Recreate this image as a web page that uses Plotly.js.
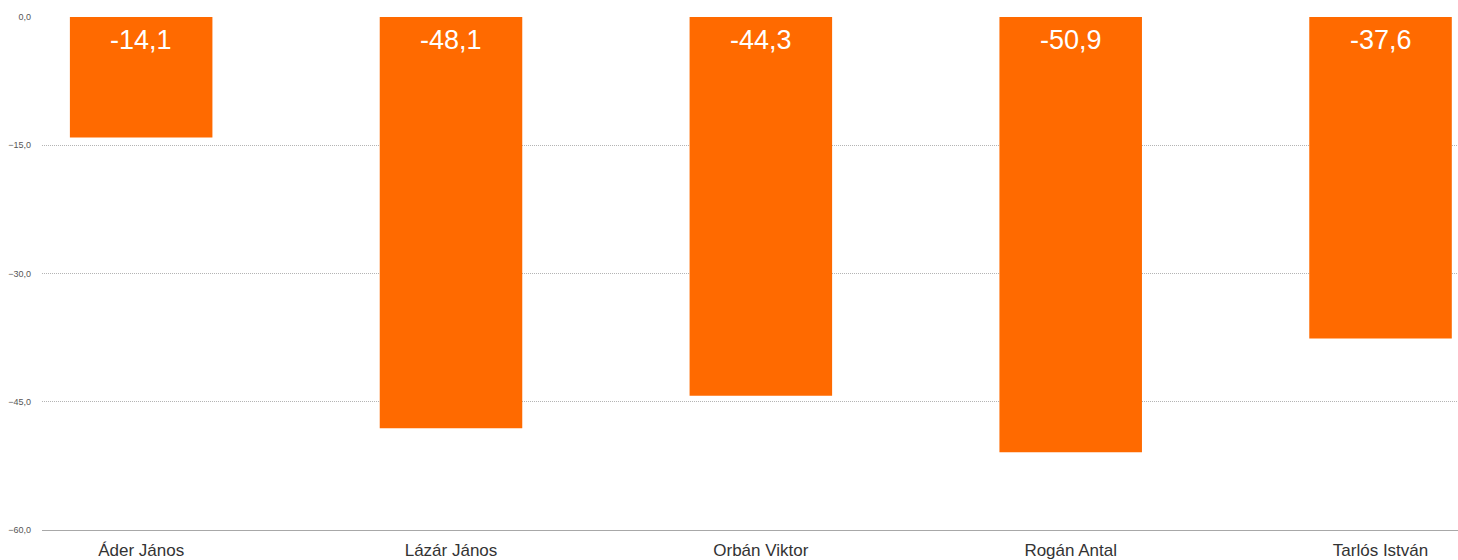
<!DOCTYPE html>
<html>
<head>
<meta charset="utf-8">
<script src="https://cdn.plot.ly/plotly-3.0.1.min.js"></script>
<style>html,body{margin:0;padding:0;background:#fff;}#chart{width:1458px;height:560px;}</style>
</head>
<body>
<div id="chart"></div>
<script>
const categories = ["Áder János", "Lázár János", "Orbán Viktor", "Rogán Antal", "Tarlós István"];
const values = [-14.1, -48.1, -44.3, -50.9, -37.6];
const tickValues = [0, -15, -30, -45, -60];

const labels = values.map(v => v.toFixed(1).replace('.', ','));

const trace = {
  type: 'bar',
  x: categories,
  y: values,
  width: 0.46,
  marker: {color: '#FF6A00', line: {width: 0}},
  hoverinfo: 'none'
};

const annotations = categories.map((c, i) => ({
  x: c,
  y: 0,
  xref: 'x',
  yref: 'y',
  text: labels[i],
  showarrow: false,
  xanchor: 'center',
  yanchor: 'top',
  yshift: -6,
  font: {family: 'Liberation Sans, Arial, sans-serif', size: 27, color: '#ffffff'}
}));

const layout = {
  width: 1458,
  height: 560,
  margin: {l: 42, r: 0, t: 17, b: 30},
  paper_bgcolor: '#ffffff',
  plot_bgcolor: '#ffffff',
  showlegend: false,
  separators: ',.',
  annotations: annotations,
  xaxis: {
    type: 'category',
    range: [-0.32, 4.25],
    showgrid: false,
    zeroline: false,
    showline: true,
    linecolor: '#a8a8a8',
    linewidth: 1,
    ticks: '',
    ticklabelstandoff: 5,
    tickfont: {family: 'Liberation Sans, Arial, sans-serif', size: 17, color: '#333333'},
    fixedrange: true
  },
  yaxis: {
    range: [-60, 0],
    tickvals: tickValues,
    tickformat: '.1f',
    showgrid: true,
    gridcolor: '#b4b4b4',
    griddash: '1px,1px',
    gridwidth: 1,
    zeroline: false,
    showline: false,
    ticks: '',
    ticklabelstandoff: 10,
    tickfont: {family: 'Liberation Sans, Arial, sans-serif', size: 9, color: '#555555'},
    fixedrange: true
  }
};

Plotly.newPlot('chart', [trace], layout, {displayModeBar: false, staticPlot: true});
</script>
</body>
</html>
